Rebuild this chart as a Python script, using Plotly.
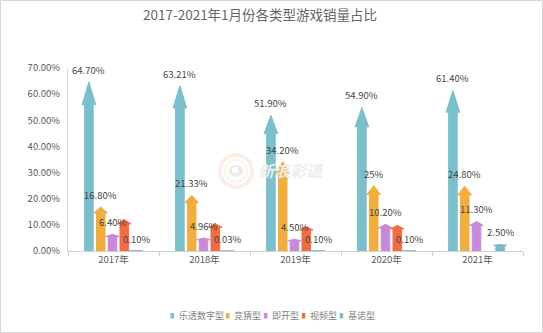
import plotly.graph_objects as go

# Share of January game sales by game type, 2017-2021 (%)
years = ["2017年", "2018年", "2019年", "2020年", "2021年"]
series_names = ["乐透数字型", "竞猜型", "即开型", "视频型", "基诺型"]
lotto = [64.70, 63.21, 51.90, 54.90, 61.40]
quiz = [16.80, 21.33, 34.20, 25.00, 24.80]
instant = [6.40, 4.96, 4.50, 10.20, 11.30]
video = [12.00, 10.47, 9.30, 9.80, None]
keno = [0.10, 0.03, 0.10, 0.10, 2.50]
y_ticks = [0, 10, 20, 30, 40, 50, 60, 70]

series_values = [lotto, quiz, instant, video, keno]
series_colors = ["#7bbfcc", "#efae3f", "#c889d6", "#f06c42", "#78bcc9"]
labelled = [True, True, True, False, True]

# plot-area geometry in pixels
W, H = 543, 333
L, R, T, B = 68, 523, 68, 251


def px_x(p):
    return (p - L) / (R - L)


def px_y(p):
    return (B - p) / (B - T)


cat_px = (R - L) / len(years)          # pixel width of one category
slot = 11.8 / cat_px                   # spacing between series within a group
shift = -1.0 / cat_px
shaft = 4.3 / cat_px                   # half width of the arrow shaft
head = 6.8 / cat_px                    # half width of the arrow head
head_frac = 0.135                      # arrow head height relative to value


def fmt(v):
    return f"{v:.0f}%" if float(v).is_integer() else f"{v:.2f}%"


fig = go.Figure()
annotations = []

for i, (name, vals, color) in enumerate(zip(series_names, series_values, series_colors)):
    xs, ys = [], []
    for j, v in enumerate(vals):
        if v is None:
            continue
        xc = j + shift + (i - 2) * slot
        hb = v * (1 - head_frac)
        xs += [xc - shaft, xc - shaft, xc - head, xc, xc + head, xc + shaft, xc + shaft, xc - shaft, None]
        ys += [0, hb, hb, v, hb, hb, 0, 0, None]
        if labelled[i]:
            annotations.append(dict(
                x=xc, y=v, xref="x", yref="y", text=fmt(v), showarrow=False,
                xanchor="center", yanchor="middle", yshift=12,
                font=dict(size=9.5, color="#454545"),
            ))
    fig.add_trace(go.Scatter(
        x=xs, y=ys, mode="lines", fill="toself", fillcolor=color,
        line=dict(color=color, width=1), name=name, showlegend=False,
        hoverinfo="skip",
    ))

# title
annotations.append(dict(
    x=px_x(260), y=px_y(14), xref="paper", yref="paper",
    text="2017-2021年1月份各类型游戏销量占比", showarrow=False,
    xanchor="center", yanchor="middle",
    font=dict(size=13.5, color="#666666"),
))

# watermark
annotations.append(dict(
    x=px_x(291), y=px_y(170), xref="paper", yref="paper",
    text="<b><i>新浪彩通</i></b>", showarrow=False,
    xanchor="center", yanchor="middle",
    font=dict(size=16, color="#eeeeee"),
))

shapes = []
# watermark logo rings
cx, cy = 236, 171
for r, c, w in [(16, "#fdeee9", 4), (11, "#fdf5e6", 2)]:
    shapes.append(dict(
        type="circle", xref="paper", yref="paper", layer="below",
        x0=px_x(cx - r), x1=px_x(cx + r), y0=px_y(cy + r), y1=px_y(cy - r),
        line=dict(color=c, width=w),
    ))
shapes.append(dict(
    type="circle", xref="paper", yref="paper", layer="below",
    x0=px_x(cx - 7), x1=px_x(cx + 7), y0=px_y(cy + 6), y1=px_y(cy - 6),
    fillcolor="#ebebeb", line=dict(width=0),
))
shapes.append(dict(
    type="circle", xref="paper", yref="paper", layer="below",
    x0=px_x(cx - 4), x1=px_x(cx + 2), y0=px_y(cy + 2), y1=px_y(cy - 4),
    fillcolor="#ffffff", line=dict(width=0),
))

# custom legend
lx = 170.5
for name, color in zip(series_names, series_colors):
    shapes.append(dict(
        type="rect", xref="paper", yref="paper",
        x0=px_x(lx), x1=px_x(lx + 3.5), y0=px_y(318.5), y1=px_y(313),
        fillcolor=color, line=dict(width=0),
    ))
    annotations.append(dict(
        x=px_x(lx + 6), y=px_y(315.7), xref="paper", yref="paper",
        text=name, showarrow=False, xanchor="left", yanchor="middle",
        font=dict(size=9, color="#7f7f7f"),
    ))
    lx += 6 + 8.8 * len(name) + 5.5

# outer frame
shapes.append(dict(
    type="rect", xref="paper", yref="paper",
    x0=px_x(0.5), x1=px_x(W - 0.5), y0=px_y(H - 0.5), y1=px_y(0.5),
    line=dict(color="#d6d6d6", width=1), fillcolor="rgba(0,0,0,0)",
))

fig.update_layout(
    width=W, height=H,
    margin=dict(l=L, r=W - R, t=T, b=H - B),
    paper_bgcolor="white", plot_bgcolor="white",
    font=dict(family="Noto Sans CJK SC, Noto Sans, sans-serif", color="#595959"),
    showlegend=False,
    annotations=annotations,
    shapes=shapes,
    xaxis=dict(
        range=[-0.5, len(years) - 0.5], tickmode="array",
        tickvals=list(range(len(years))), ticktext=years,
        ticks="", showgrid=False, zeroline=False,
        showline=True, linecolor="#d0d0d0", linewidth=1,
        tickfont=dict(size=9.5, color="#595959"),
        minor=dict(tickmode="array", tickvals=[k - 0.5 for k in range(len(years) + 1)],
                   ticks="outside", ticklen=4, tickcolor="#d0d0d0", showgrid=False),
        fixedrange=True,
    ),
    yaxis=dict(
        range=[0, 70], tickmode="array", tickvals=y_ticks,
        ticktext=[f"{t:.2f}%" for t in y_ticks],
        ticks="", showgrid=False, zeroline=False,
        showline=True, linecolor="#d9d9d9", linewidth=1,
        tickfont=dict(size=9.5, color="#595959"),
        ticklabelstandoff=5,
        fixedrange=True,
    ),
)

fig.write_html("out.html")
